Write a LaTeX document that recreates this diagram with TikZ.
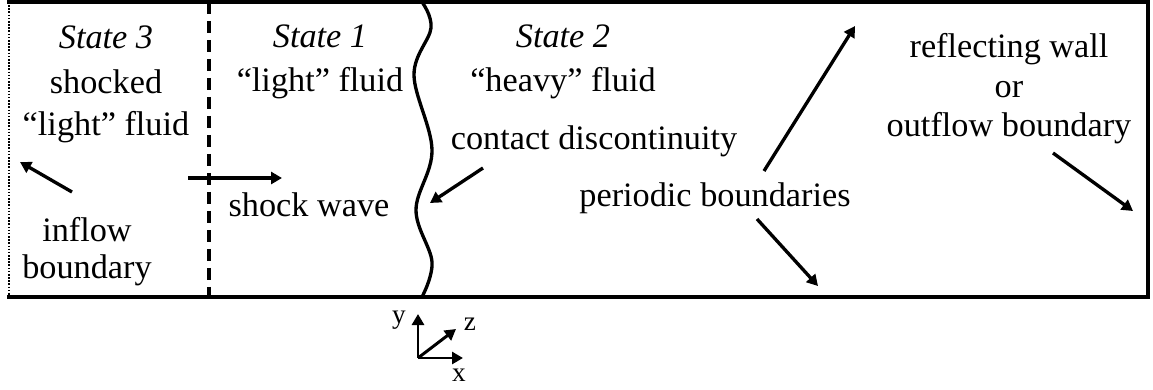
\documentclass[tikz,border=0pt]{standalone}
\usepackage{fontspec}
\setmainfont{Liberation Serif}
\usetikzlibrary{arrows.meta, positioning}
\tikzset{
  wallLine/.style={
    line width=2.6pt, line cap=rect
  },
  inflowLine/.style={
    line width=1.1pt, dash pattern=on 0.9pt off 0.9pt
  },
  shockLine/.style={
    line width=1.9pt, dash pattern=on 0.24cm off 0.14cm
  },
  contactLine/.style={
    line width=1.9pt
  },
  arr/.style={
    -{Triangle[length=0.22cm, width=0.24cm]}, line width=1.9pt
  },
  regionText/.style={
    font=\fontsize{19.5}{22.5}\selectfont, align=center, inner sep=0pt
  },
  axisText/.style={
    font=\fontsize{15.5}{17}\selectfont, inner sep=0pt
  }
}

\begin{document}
\begin{tikzpicture}[x=0.02cm, y=-0.02cm]

  \useasboundingbox (0,0) rectangle (1153,389);

  % channel walls
  \draw[wallLine] (9,2) -- (1148,2) -- (1148,297) -- (9,297);
  \draw[inflowLine] (9,2) -- (9,297);

  % shock front and contact surface
  \draw[shockLine] (209,2) -- (209,297);
  \draw[contactLine] plot[smooth, tension=0.6] coordinates {
    (422,2) (431,28) (414,75) (432,150) (416,210) (432,262) (422,297)};

  % region labels
  \node[regionText, font=\fontsize{19.5}{23.5}\selectfont] (st3) at (106,84)
    {\textit{State 3}\\[2.5pt]shocked\\“light” fluid};
  \node[regionText, font=\fontsize{19.5}{21}\selectfont] (inflow) at (87,252) {inflow\\boundary};
  \node[regionText, font=\fontsize{19.5}{25}\selectfont] (st1) at (320,62) {\textit{State 1}\\“light” fluid};
  \node[regionText, font=\fontsize{19.5}{25}\selectfont] (st2) at (563,62) {\textit{State 2}\\“heavy” fluid};
  \node[regionText] (wallTxt) at (1009,89) {reflecting wall\\or\\outflow boundary};
  \node[regionText] (shockTxt) at (309,205) {shock wave};
  \node[regionText] (contactTxt) at (594,141) {contact discontinuity};
  \node[regionText] (perTxt) at (715,198) {periodic boundaries};

  % pointers
  \coordinate (inTail) at (72,192);     \coordinate (inHead) at (20,162);
  \coordinate (shTail) at (188,178);    \coordinate (shHead) at (282,178);
  \coordinate (cdTail) at (483,168);    \coordinate (cdHead) at (430,203);
  \coordinate (pUpTail) at (764,171);   \coordinate (pUpHead) at (855,26);
  \coordinate (pDnTail) at (757,219);   \coordinate (pDnHead) at (818,286);
  \coordinate (outTail) at (1053,153);  \coordinate (outHead) at (1133,211);
  \draw[arr] (inTail) -- (inHead);
  \draw[arr] (shTail) -- (shHead);
  \draw[arr] (cdTail) -- (cdHead);
  \draw[arr] (pUpTail) -- (pUpHead);
  \draw[arr] (pDnTail) -- (pDnHead);
  \draw[arr] (outTail) -- (outHead);

  % axes
  \coordinate (orig) at (418,358);
  \coordinate (yEnd) at (418,314);
  \coordinate (xEnd) at (463,358);
  \coordinate (zEnd) at (456,329);
  \draw[arr, line width=1.7pt] (orig) -- (yEnd);
  \draw[arr, line width=1.7pt] (orig) -- (xEnd);
  \draw[arr, line width=1.7pt] (orig) -- (zEnd);
  \node[axisText] (yLbl) at (399,320) {y};
  \node[axisText] (zLbl) at (470,324) {z};
  \node[axisText] (xLbl) at (459,375) {x};

\end{tikzpicture}
\end{document}
